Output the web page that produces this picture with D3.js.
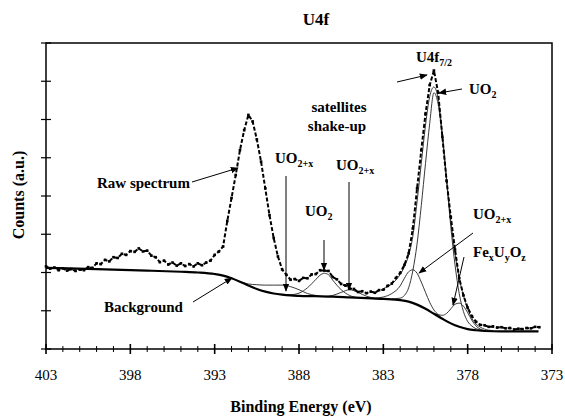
<!DOCTYPE html>
<html>
<head>
<meta charset="utf-8">
<script src="https://cdn.jsdelivr.net/npm/d3@7"></script>
<style>
  body { margin: 0; background: white; }
</style>
</head>
<body>
<svg width="565" height="416"></svg>
<script>
// raw spectrum, one value every 0.25 eV starting at 403 eV
const rawStart = 403;
const rawStep = 0.25;
const rawCounts = [
    2.16, 2.10, 2.13, 2.06, 2.11, 2.05, 2.09, 2.04, 2.08, 2.06,
    2.14, 2.12, 2.24, 2.22, 2.33, 2.29, 2.40, 2.38, 2.49, 2.46,
    2.56, 2.54, 2.63, 2.55, 2.57, 2.44, 2.40, 2.27, 2.31, 2.21,
    2.26, 2.18, 2.24, 2.17, 2.22, 2.16, 2.24, 2.19, 2.26, 2.31,
    2.46, 2.55, 2.68, 3.35, 3.95, 4.55, 5.20, 5.72, 6.12, 5.95,
    5.48, 4.90, 4.20, 3.50, 2.90, 2.42, 2.08, 1.94, 1.81, 1.83,
    1.78, 1.86, 1.85, 1.95, 1.96, 2.06, 2.05, 2.04, 1.88, 1.82,
    1.70, 1.66, 1.58, 1.57, 1.49, 1.51, 1.46, 1.50, 1.47, 1.54,
    1.55, 1.65, 1.71, 1.86, 1.99, 2.20, 2.50, 3.15, 4.20, 5.20,
    6.15, 6.90, 7.28, 6.70, 5.55, 4.40, 3.45, 2.60, 1.85, 1.40,
    1.08, 0.86, 0.71, 0.63, 0.62, 0.58, 0.59, 0.56, 0.57, 0.54,
    0.55, 0.51, 0.53, 0.52, 0.55, 0.54, 0.58, 0.57
];

const background = [
    [403, 2.12], [400, 2.09], [397, 2.05], [395, 2.02], [394, 2.00], [393, 1.96],
    [392.5, 1.92], [392, 1.85], [391.5, 1.76], [391, 1.66], [390.5, 1.57], [390, 1.50],
    [389.5, 1.45], [389, 1.42], [388.5, 1.40], [388, 1.39], [387, 1.38], [386, 1.37],
    [385, 1.35], [384, 1.33], [383, 1.31], [382, 1.28], [381.5, 1.24], [381, 1.16],
    [380.5, 1.05], [380, 0.92], [379.5, 0.79], [379, 0.67], [378.5, 0.58], [378, 0.52],
    [377.5, 0.49], [377, 0.47], [376, 0.46], [375, 0.46], [374, 0.46], [373.8, 0.46]
];

// fitted components (background included)
const compUO2main = [
    [382.5, 1.31], [382, 1.33], [381.75, 1.40], [381.5, 1.60], [381.25, 2.05], [381, 2.75],
    [380.75, 3.75], [380.5, 4.85], [380.25, 5.90], [380, 6.70], [379.75, 6.40], [379.5, 5.55],
    [379.25, 4.40], [379, 3.20], [378.75, 2.20], [378.5, 1.45], [378.25, 0.98], [378, 0.72],
    [377.75, 0.60], [377.5, 0.53], [377.25, 0.50], [377, 0.48]
];
const compUO2x = [
    [383.5, 1.33], [383, 1.36], [382.5, 1.45], [382, 1.65], [381.75, 1.85], [381.5, 2.02],
    [381.25, 2.07], [381, 1.98], [380.75, 1.75], [380.5, 1.48], [380.25, 1.22], [380, 1.02],
    [379.75, 0.90], [379.5, 0.80], [379, 0.68]
];
const compFeUO = [
    [380, 0.93], [379.75, 0.90], [379.5, 0.88], [379.25, 0.93], [379, 1.05], [378.75, 1.17],
    [378.5, 1.20], [378.25, 1.12], [378, 0.95], [377.75, 0.75], [377.5, 0.60], [377.25, 0.52],
    [377, 0.48]
];
const compSatUO2 = [
    [389, 1.42], [388.5, 1.42], [388, 1.46], [387.5, 1.60], [387, 1.82], [386.75, 1.93],
    [386.5, 1.98], [386.25, 1.94], [386, 1.80], [385.5, 1.55], [385, 1.40], [384.5, 1.34]
];
const compSatUO2x1 = [
    [391.5, 1.76], [391, 1.70], [390.5, 1.68], [390, 1.67], [389.5, 1.67], [389, 1.67],
    [388.5, 1.63], [388, 1.55], [387.5, 1.45], [387, 1.40]
];
const compSatUO2x2 = [
    [386.5, 1.37], [386, 1.40], [385.5, 1.48], [385, 1.55], [384.5, 1.48], [384, 1.38], [383.5, 1.33]
];
const envelope = [
    [383, 1.58], [382.5, 1.70], [382, 1.95], [381.75, 2.15], [381.5, 2.45], [381.25, 2.95],
    [381, 3.85], [380.75, 4.85], [380.5, 5.85], [380.25, 6.60], [380, 6.85], [379.75, 6.55],
    [379.5, 5.60], [379.25, 4.45], [379, 3.35], [378.75, 2.50], [378.5, 1.85], [378.25, 1.40],
    [378, 1.05], [377.75, 0.80], [377.5, 0.65], [377.25, 0.57], [377, 0.52], [376.5, 0.48]
];

const xTickLabels = [403, 398, 393, 388, 383, 378, 373];

const svg = d3.select("svg");
const serif = "Liberation Serif";

const x = d3.scaleLinear().domain([403, 373]).range([46, 552]);
const y = d3.scaleLinear().domain([0, 8]).range([349, 43]);

// frame
svg.append("rect")
    .attr("x", 46).attr("y", 43)
    .attr("width", 506).attr("height", 306)
    .attr("fill", "none")
    .attr("stroke", "black")
    .attr("stroke-width", 1.5);

// x axis ticks
const xMinor = d3.range(403, 372.5, -1);
svg.selectAll(".xtick")
    .data(xMinor)
    .enter()
    .append("line")
    .attr("class", "xtick")
    .attr("x1", d => x(d)).attr("x2", d => x(d))
    .attr("y1", d => xTickLabels.includes(d) ? 344 : 346)
    .attr("y2", d => xTickLabels.includes(d) ? 354 : 352)
    .attr("stroke", "black")
    .attr("stroke-width", d => xTickLabels.includes(d) ? 1.6 : 1);

svg.selectAll(".xlabel")
    .data(xTickLabels)
    .enter()
    .append("text")
    .attr("class", "xlabel")
    .attr("x", d => x(d))
    .attr("y", 380)
    .attr("text-anchor", "middle")
    .style("font-family", serif)
    .attr("font-size", "15px")
    .text(d => d);

// y axis ticks (no labels)
svg.selectAll(".ytick")
    .data(d3.range(0, 9))
    .enter()
    .append("line")
    .attr("class", "ytick")
    .attr("x1", 41).attr("x2", 51)
    .attr("y1", d => y(d)).attr("y2", d => y(d))
    .attr("stroke", "black")
    .attr("stroke-width", 1.2);

// titles
svg.append("text")
    .attr("x", 316).attr("y", 25)
    .attr("text-anchor", "middle")
    .style("font-family", serif)
    .attr("font-size", "17px")
    .attr("font-weight", "bold")
    .text("U4f");

svg.append("text")
    .attr("x", 301).attr("y", 412)
    .attr("text-anchor", "middle")
    .style("font-family", serif)
    .attr("font-size", "16px")
    .attr("font-weight", "bold")
    .text("Binding Energy (eV)");

svg.append("text")
    .attr("transform", "translate(24,195) rotate(-90)")
    .attr("text-anchor", "middle")
    .style("font-family", serif)
    .attr("font-size", "16px")
    .attr("font-weight", "bold")
    .text("Counts (a.u.)");

// curves
const line = d3.line().x(d => x(d[0])).y(d => y(d[1])).curve(d3.curveMonotoneX);

const thinCurves = [compUO2main, compUO2x, compFeUO, compSatUO2, compSatUO2x1, compSatUO2x2, envelope];
thinCurves.forEach(c => {
    svg.append("path")
        .datum(c)
        .attr("d", line)
        .attr("fill", "none")
        .attr("stroke", "#222")
        .attr("stroke-width", 0.9);
});

svg.append("path")
    .datum(background)
    .attr("d", line)
    .attr("fill", "none")
    .attr("stroke", "black")
    .attr("stroke-width", 2.2);

const raw = rawCounts.map((v, i) => [rawStart - i * rawStep, v]);

svg.append("path")
    .datum(raw)
    .attr("d", d3.line().x(d => x(d[0])).y(d => y(d[1])))
    .attr("fill", "none")
    .attr("stroke", "black")
    .attr("stroke-width", 2)
    .attr("stroke-dasharray", "4,2");

svg.selectAll(".rawpt")
    .data(raw)
    .enter()
    .append("rect")
    .attr("class", "rawpt")
    .attr("x", d => x(d[0]) - 1.3)
    .attr("y", d => y(d[1]) - 1.3)
    .attr("width", 2.6)
    .attr("height", 2.6)
    .attr("fill", "black");

// arrows
svg.append("defs").append("marker")
    .attr("id", "arrow")
    .attr("viewBox", "0 0 10 10")
    .attr("refX", 9).attr("refY", 5)
    .attr("markerWidth", 8).attr("markerHeight", 8)
    .attr("markerUnits", "userSpaceOnUse")
    .attr("orient", "auto")
    .append("path")
    .attr("d", "M0,1 L10,5 L0,9 Z")
    .attr("fill", "black");

const arrows = [
    [192, 182, 238, 168],
    [193, 302, 232, 278],
    [397, 82, 427, 75],
    [462, 89, 439, 93],
    [286, 176, 286, 291],
    [349, 182, 349, 290],
    [324, 240, 324, 270],
    [473, 233, 419, 273],
    [464, 257, 453, 305]
];
arrows.forEach(a => {
    svg.append("line")
        .attr("x1", a[0]).attr("y1", a[1])
        .attr("x2", a[2]).attr("y2", a[3])
        .attr("stroke", "black")
        .attr("stroke-width", 1)
        .attr("marker-end", "url(#arrow)");
});

// annotations; { sub: "..." } is a subscript
function label(px, py, parts, anchor) {
    const t = svg.append("text")
        .attr("x", px).attr("y", py)
        .style("font-family", serif)
        .attr("font-size", "15px")
        .attr("font-weight", "bold")
        .attr("text-anchor", anchor || "start");
    let down = false;
    parts.forEach(p => {
        if (typeof p === "string") {
            t.append("tspan").attr("dy", down ? -4 : 0).text(p);
            down = false;
        } else {
            t.append("tspan").attr("font-size", "10px").attr("dy", 4).text(p.sub);
            down = true;
        }
    });
}

label(97, 188, ["Raw spectrum"]);
label(104, 312, ["Background"]);
label(339, 112, ["satellites"], "middle");
label(337, 131, ["shake-up"], "middle");
label(416, 62, ["U4f", { sub: "7/2" }]);
label(469, 94, ["UO", { sub: "2" }]);
label(275, 163, ["UO", { sub: "2+x" }]);
label(336, 170, ["UO", { sub: "2+x" }]);
label(305, 216, ["UO", { sub: "2" }]);
label(473, 219, ["UO", { sub: "2+x" }]);
label(473, 257, ["Fe", { sub: "x" }, "U", { sub: "y" }, "O", { sub: "z" }]);
</script>
</body>
</html>
